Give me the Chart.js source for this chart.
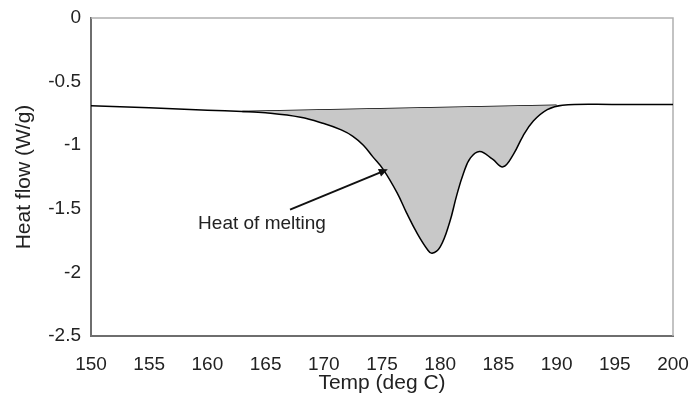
<!DOCTYPE html>
<html>
<head>
<meta charset="UTF-8">
<script src="https://cdn.jsdelivr.net/npm/chart.js"></script>
<style>
  html, body { margin: 0; padding: 0; background: #fff; }
  #wrap { width: 691px; height: 403px; }
</style>
</head>
<body>
<div id="wrap"><canvas id="dsc"></canvas></div>
<script>
// DSC trace (temp in deg C, heat flow in W/g)
const temps = [150, 155, 160, 163, 165, 168, 170, 171.5, 172.5, 173.4, 174.2, 175.1, 176.3, 177.1, 178, 178.9, 179.3, 180, 180.8, 181.4, 182, 182.6, 183.4, 184.5, 185.4, 186.3, 187.1, 188, 189.2, 190.5, 195, 200];
const heatFlow = [-0.69, -0.705, -0.725, -0.735, -0.745, -0.78, -0.83, -0.88, -0.93, -1.0, -1.09, -1.19, -1.375, -1.53, -1.69, -1.82, -1.85, -1.8, -1.61, -1.4, -1.22, -1.1, -1.05, -1.11, -1.17, -1.07, -0.93, -0.81, -0.72, -0.685, -0.68, -0.68];

// integration baseline
const baseTemps = [163, 190];
const baseFlow = [-0.735, -0.685];

const xTicks = [150, 155, 160, 165, 170, 175, 180, 185, 190, 195, 200];
const yTicks = [0, -0.5, -1, -1.5, -2, -2.5];

// annotation, in data units
const noteText = 'Heat of melting';
const notePos = { x: 159.2, y: -1.62 };
const arrowFrom = { x: 167.1, y: -1.506 };
const arrowTo = { x: 175.5, y: -1.19 };

const FONT = 'Arial, "Liberation Sans", sans-serif';

const framePlugin = {
  id: 'frame',
  beforeDatasetsDraw(chart) {
    const { ctx, chartArea: a } = chart;
    ctx.save();
    ctx.strokeStyle = '#b0b0b0';
    ctx.lineWidth = 1.5;
    ctx.beginPath();
    ctx.moveTo(a.left, a.top);
    ctx.lineTo(a.right, a.top);
    ctx.lineTo(a.right, a.bottom);
    ctx.stroke();
    ctx.restore();
  }
};

const notePlugin = {
  id: 'note',
  afterDatasetsDraw(chart) {
    const { ctx, scales: { x, y } } = chart;
    const x1 = x.getPixelForValue(arrowFrom.x), y1 = y.getPixelForValue(arrowFrom.y);
    const x2 = x.getPixelForValue(arrowTo.x), y2 = y.getPixelForValue(arrowTo.y);
    const ang = Math.atan2(y2 - y1, x2 - x1);
    ctx.save();
    ctx.strokeStyle = '#111';
    ctx.fillStyle = '#111';
    ctx.lineWidth = 2;
    ctx.beginPath();
    ctx.moveTo(x1, y1);
    ctx.lineTo(x2 - 6 * Math.cos(ang), y2 - 6 * Math.sin(ang));
    ctx.stroke();
    ctx.beginPath();
    ctx.moveTo(x2, y2);
    ctx.lineTo(x2 - 9 * Math.cos(ang) + 4 * Math.sin(ang), y2 - 9 * Math.sin(ang) - 4 * Math.cos(ang));
    ctx.lineTo(x2 - 9 * Math.cos(ang) - 4 * Math.sin(ang), y2 - 9 * Math.sin(ang) + 4 * Math.cos(ang));
    ctx.closePath();
    ctx.fill();
    ctx.font = '19px ' + FONT;
    ctx.textBaseline = 'middle';
    ctx.fillStyle = '#222';
    ctx.fillText(noteText, x.getPixelForValue(notePos.x), y.getPixelForValue(notePos.y));
    ctx.restore();
  }
};

new Chart(document.getElementById('dsc'), {
  type: 'line',
  data: {
    datasets: [
      {
        data: temps.map((t, i) => ({ x: t, y: heatFlow[i] })),
        borderColor: '#000',
        borderWidth: 1.5,
        backgroundColor: '#c8c8c8',
        fill: 1,
        pointRadius: 0,
        tension: 0.4
      },
      {
        data: baseTemps.map((t, i) => ({ x: t, y: baseFlow[i] })),
        borderColor: '#000',
        borderWidth: 1.5,
        fill: false,
        pointRadius: 0
      }
    ]
  },
  options: {
    responsive: true,
    maintainAspectRatio: false,
    animation: false,
    layout: { padding: { top: 18, right: 18, left: 0, bottom: 0 } },
    plugins: { legend: { display: false }, tooltip: { enabled: false } },
    scales: {
      x: {
        type: 'linear',
        min: 150, max: 200,
        afterBuildTicks: s => { s.ticks = xTicks.map(v => ({ value: v })); },
        afterFit: s => { s.height = 67; s.paddingLeft = 0; s.paddingRight = 0; },
        grid: { display: false, drawTicks: true, tickLength: 5, tickColor: '#666' },
        border: { display: true, color: '#6e6e6e', width: 2 },
        ticks: { color: '#222', font: { family: FONT, size: 19 }, padding: 12, maxRotation: 0, callback: v => String(v) },
        title: { display: true, text: 'Temp (deg C)', color: '#222', font: { family: FONT, size: 21 }, padding: { top: 0, bottom: 7 } }
      },
      y: {
        min: -2.5, max: 0,
        afterBuildTicks: s => { s.ticks = yTicks.map(v => ({ value: v })); },
        afterFit: s => { s.width = 91; s.paddingTop = 0; s.paddingBottom = 0; },
        grid: { display: false, drawTicks: true, tickLength: 5, tickColor: '#666' },
        border: { display: true, color: '#6e6e6e', width: 2 },
        ticks: { color: '#222', font: { family: FONT, size: 19 }, padding: 5, callback: v => String(v) },
        title: { display: true, text: 'Heat flow (W/g)', color: '#222', font: { family: FONT, size: 21 }, padding: { top: 12, bottom: 0 } }
      }
    }
  },
  plugins: [framePlugin, notePlugin]
});
</script>
</body>
</html>
